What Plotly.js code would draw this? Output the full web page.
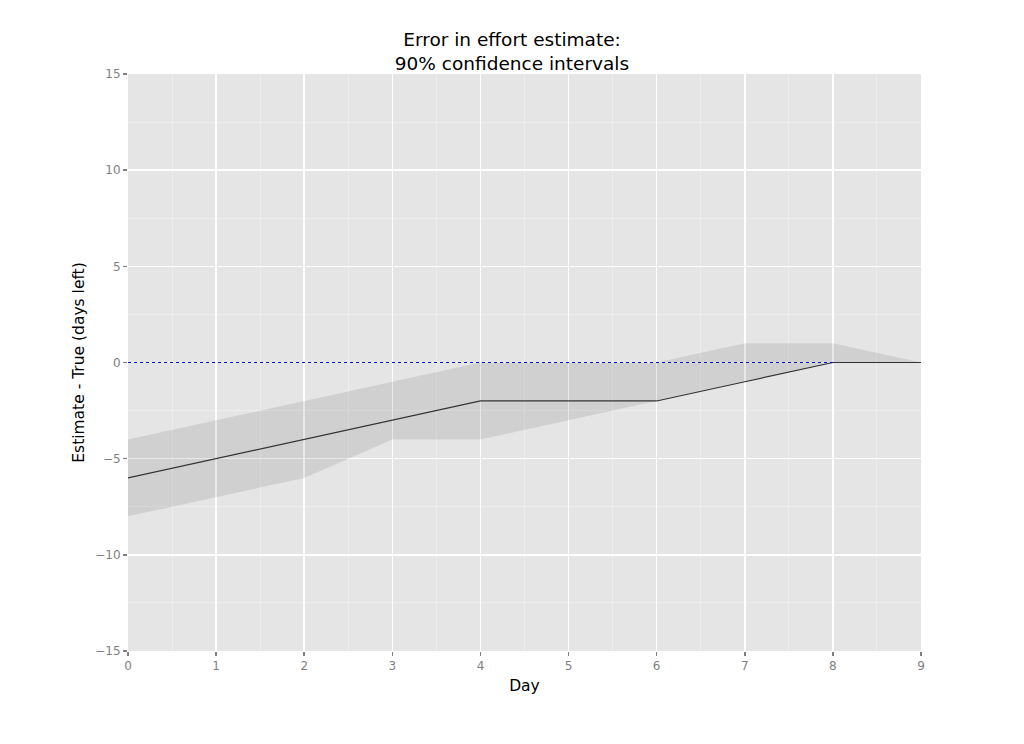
<!DOCTYPE html>
<html>
<head>
<meta charset="utf-8">
<script src="https://cdn.plot.ly/plotly-3.0.1.min.js"></script>
<style>
  body { margin: 0; background: white; }
  #chart { width: 1024px; height: 744px; }
</style>
</head>
<body>
<div id="chart"></div>
<script>
const days = [0, 1, 2, 3, 4, 5, 6, 7, 8, 9];
const estimate = [-6, -5, -4, -3, -2, -2, -2, -1, 0, 0];
const upper = [-4, -3, -2, -1, 0, 0, 0, 1, 1, 0];
const lower = [-8, -7, -6, -4, -4, -3, -2, -1, 0, 0];
const refDays = [0, 8];
const refValues = [0, 0];

const gridMajor = "#FFFFFF";
const gridMinor = "#EDEDED";
const tickGrey = "#7F7F7F";

const traceLower = {
  x: days,
  y: lower,
  type: "scatter",
  mode: "lines",
  line: { width: 0 },
  hoverinfo: "skip",
  showlegend: false,
};
const traceUpper = {
  x: days,
  y: upper,
  type: "scatter",
  mode: "lines",
  fill: "tonexty",
  fillcolor: "rgba(0,0,0,0.09)",
  line: { width: 0 },
  hoverinfo: "skip",
  showlegend: false,
};
const traceLine = {
  x: days,
  y: estimate,
  type: "scatter",
  mode: "lines",
  line: { color: "#333333", width: 1.2 },
  showlegend: false,
};
const traceRef = {
  x: refDays,
  y: refValues,
  type: "scatter",
  mode: "lines",
  line: { color: "#0000FF", width: 1.2, dash: "dot" },
  showlegend: false,
};

const layout = {
  width: 1024,
  height: 744,
  paper_bgcolor: "white",
  plot_bgcolor: "#E5E5E5",
  font: { family: "DejaVu Sans", color: "black" },
  margin: { l: 128, r: 103, t: 74, b: 93 },
  title: {
    text: "Error in effort estimate:<br>90% confidence intervals",
    font: { size: 18.5, color: "black" },
    x: 0.5,
    xanchor: "center",
    y: 0.938,
    yanchor: "top",
  },
  xaxis: {
    range: [0, 9],
    dtick: 1,
    tick0: 0,
    ticks: "outside",
    ticklen: 4,
    tickwidth: 1.5,
    tickcolor: tickGrey,
    tickfont: { size: 12, color: tickGrey },
    showgrid: true,
    gridcolor: gridMajor,
    gridwidth: 1.5,
    zeroline: false,
    showline: false,
    minor: { dtick: 0.5, tick0: 0, showgrid: true, gridcolor: gridMinor, gridwidth: 1, ticks: "" },
    title: { text: "Day", font: { size: 15.5, color: "black" }, standoff: 7 },
  },
  yaxis: {
    range: [-15, 15],
    dtick: 5,
    tick0: 0,
    ticks: "outside",
    ticklen: 4,
    tickwidth: 1.5,
    tickcolor: tickGrey,
    tickfont: { size: 12, color: tickGrey },
    showgrid: true,
    gridcolor: gridMajor,
    gridwidth: 1.5,
    zeroline: false,
    showline: false,
    minor: { dtick: 2.5, tick0: 0, showgrid: true, gridcolor: gridMinor, gridwidth: 1, ticks: "" },
    title: { text: "Estimate - True (days left)", font: { size: 15.5, color: "black" }, standoff: 6 },
  },
};

Plotly.newPlot("chart", [traceLower, traceUpper, traceLine, traceRef], layout, {
  staticPlot: true,
  displayModeBar: false,
});
</script>
</body>
</html>
